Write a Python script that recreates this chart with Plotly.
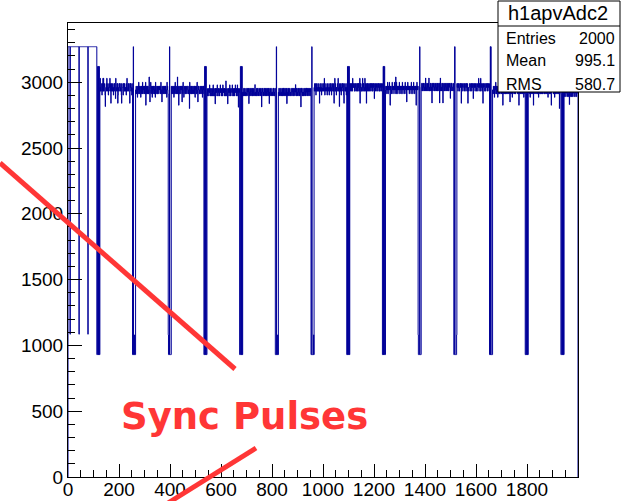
import plotly.graph_objects as go

# ---------------- data ----------------
hist_name = "h1apvAdc2"
n_bins = 2000
x_lo, x_hi = 0, 2000
stat_labels = ["Entries", "Mean", "RMS"]
stat_values = ["2000", "995.1", "580.7"]

# idle period before the first APV frame: digital-0 level with tick marks
idle_len = 113
idle_level = 3270
tick_bins = [8, 43, 78]
tick_level = 1085

# 12-bit frame headers (3 header bits, 8 address bits, error bit)
header_levels = {"L": 930, "M": 1080, "H": 3120, "T": 3270}
headers = [
    "LLLHHLHLLHLL", "LLLTLLLLMLLL", "MLLLLTLLLLLL", "LLLHLHHLHLLL",
    "LLLHHLLHLHLL", "LLLLTLLLLMLL", "LLLTLLLLLLML", "LLLHLLHHLHLL",
    "LLLHLHLHHLLL", "MLLLLLTLLLLL", "LLLTTLLLLLLM", "LLLTLTLLLLLL",
    "LLLHLLHLHLLL", "LLLHHLHLLLHL",
]

# common-mode shift of each frame (ADC counts)
frame_offsets = [-10, 0, 0, 10, 12, 12, -10, -10, 0, -8, -10, 0, 0, 5]

# analog samples (128 channels per frame), ADC values coded by digit
analog_levels = {"0": 2770, "1": 2800, "2": 2825, "3": 2850, "4": 2885,
                 "5": 2912, "6": 2942, "7": 2970, "8": 3000, "9": 3040}
analog_frames = [
    "7967677857869697 6787526778697768 7576877967837687 8676757868776497 "
    "6778683576787867 7687538777658786 7867677586977678 6787736878667587",
    "6576567465768567 5676465767586576 6757656826576765 7565797535687567 "
    "6476576756576486 5667576567657676 6758566376567657 5676757656486765",
    "7565676567465768 6576567596576265 5767657676367586 6456765765676567 "
    "7656576186567657 5765676567576467 6576586535767656 5676567657465767",
    "5645565465756456 6546546575465546 2656565476546565 5465756546556475 "
    "6556465654865465 5265564657546556 6547565465564657 5564654756516556",
    "5454654564545654 4565456526545465 5456546455645456 7545465456546545 "
    "4565546545165654 5456456546545465 6545465625456545 4565545465645456",
    "5465456545654546 4556465456545654 6254565465456545 5465545654654565 "
    "4557546456545465 5645465516565454 6454565456454656 5465456545654564",
    "7687678576867768 8676737867687576 6787678697576787 7675867776857678 "
    "6787576877686737 7968767576787697 6772867687576878 7687537786776857",
    "8768778678697787 7867687786778678 6878767938786776 7796878677697867 "
    "8377868776877687 7868778687678786 4787867778687768 7877686787768778",
    "6766757686576768 7627676567867576 6768657696586767 5676768657676576 "
    "7686576767657867 6573676867676576 7667586767657686 6756767627686767",
    "7786768778687677 6978767687768796 7677868767387687 8767687786767868 "
    "6787768638697676 7868737786768778 6776878677686787 7847768786777687",
    "8778687787678878 7387787678877687 8776878768737767 7887678778687787 "
    "4787877687787678 8767797878677967 7878673787887678 8677878768787768",
    "6567657465768657 5766467567586567 6675756826567675 7565696575686756 "
    "6576375667576486 5676675657567667 6578656276576567 5667576567486756",
    "5676567465768576 6567265767586657 7657656846596756 6565767565687657 "
    "5676576756576486 6567576567257667 7658566476567576 6576757656186675",
    "5645565465756456 6546526575465546 4656565476546565 5465756",
]

# ---------------- build histogram contents ----------------
values = [tick_level if i in tick_bins else idle_level for i in range(idle_len)]
for hdr, off, frame in zip(headers, frame_offsets, analog_frames):
    values += [header_levels[c] for c in hdr]
    values += [analog_levels[c] + off for c in frame.replace(" ", "")]
if len(values) != n_bins:
    raise SystemExit("bin count %d" % len(values))

edges = list(range(x_lo, x_hi))
xs = [x_lo] + edges + [x_hi, x_hi]
ys = [0] + values + [values[-1], 0]

# ---------------- figure ----------------
W, H = 623, 501
PL, PR, PT, PB = 68, 578, 23, 477


def fx(p):
    return (p - PL) / (PR - PL)


def fy(p):
    return (PB - p) / (PB - PT)


fig = go.Figure()
fig.add_trace(go.Scatter(
    x=xs, y=ys, mode="lines",
    line=dict(color="#000099", width=1, shape="hv", simplify=False),
    hoverinfo="skip", showlegend=False,
))

tick_font = dict(family="Liberation Sans, Arial, sans-serif", size=19, color="black")

fig.update_layout(
    width=W, height=H,
    margin=dict(l=PL, r=W - PR, t=PT, b=H - PB, pad=0, autoexpand=False),
    paper_bgcolor="white", plot_bgcolor="white",
    showlegend=False,
    xaxis=dict(
        range=[x_lo, x_hi], tickmode="array", automargin=False,
        tickvals=list(range(0, 2000, 200)),
        ticktext=[str(v) for v in range(0, 2000, 200)],
        ticks="inside", ticklen=13, tickwidth=1, tickcolor="black",
        ticklabelstandoff=-5,
        minor=dict(tickmode="linear", tick0=0, dtick=50, ticks="inside",
                   ticklen=7, tickcolor="black", showgrid=False),
        showline=True, mirror=True, linecolor="black", linewidth=1,
        showgrid=False, zeroline=False, tickfont=tick_font,
    ),
    yaxis=dict(
        range=[0, 3450], tickmode="array", automargin=False,
        tickvals=list(range(0, 3001, 500)),
        ticktext=[str(v) for v in range(0, 3001, 500)],
        ticks="inside", ticklen=14, tickwidth=1, tickcolor="black",
        minor=dict(tickmode="linear", tick0=0, dtick=100, ticks="inside",
                   ticklen=7, tickcolor="black", showgrid=False),
        showline=True, mirror=True, linecolor="black", linewidth=1,
        showgrid=False, zeroline=False, tickfont=tick_font,
    ),
)

# stats box
fig.add_shape(type="rect", xref="paper", yref="paper",
              x0=fx(498), x1=fx(620), y0=fy(92), y1=fy(1),
              line=dict(color="black", width=1), fillcolor="white", layer="above")
fig.add_shape(type="line", xref="paper", yref="paper",
              x0=fx(498), x1=fx(620), y0=fy(26), y1=fy(26),
              line=dict(color="black", width=1), layer="above")
stat_font = dict(family="Liberation Sans, Arial, sans-serif", size=16, color="black")
fig.add_annotation(xref="paper", yref="paper", x=fx(558), y=fy(13),
                   text=hist_name, showarrow=False, xanchor="center", yanchor="middle",
                   font=dict(family="Liberation Sans, Arial, sans-serif", size=20, color="black"))
for i, (lab, val) in enumerate(zip(stat_labels, stat_values)):
    yy = fy(38 + 23 * i)
    fig.add_annotation(xref="paper", yref="paper", x=fx(504), y=yy, text=lab,
                       showarrow=False, xanchor="left", yanchor="middle", font=stat_font)
    fig.add_annotation(xref="paper", yref="paper", x=fx(617), y=yy, text=val,
                       showarrow=False, xanchor="right", yanchor="middle", font=stat_font)

# red annotation
red = "#ff3636"
fig.add_shape(type="line", xref="paper", yref="paper",
              x0=fx(0), y0=fy(163), x1=fx(235), y1=fy(369),
              line=dict(color=red, width=5), layer="above")
fig.add_shape(type="line", xref="paper", yref="paper",
              x0=fx(168), y0=fy(503), x1=fx(256), y1=fy(448),
              line=dict(color=red, width=5), layer="above")
fig.add_annotation(xref="paper", yref="paper", x=fx(244), y=fy(416),
                   text="<b>Sync Pulses</b>", showarrow=False,
                   xanchor="center", yanchor="middle",
                   font=dict(family="DejaVu Sans", size=37, color=red))

fig.write_html("out.html")
